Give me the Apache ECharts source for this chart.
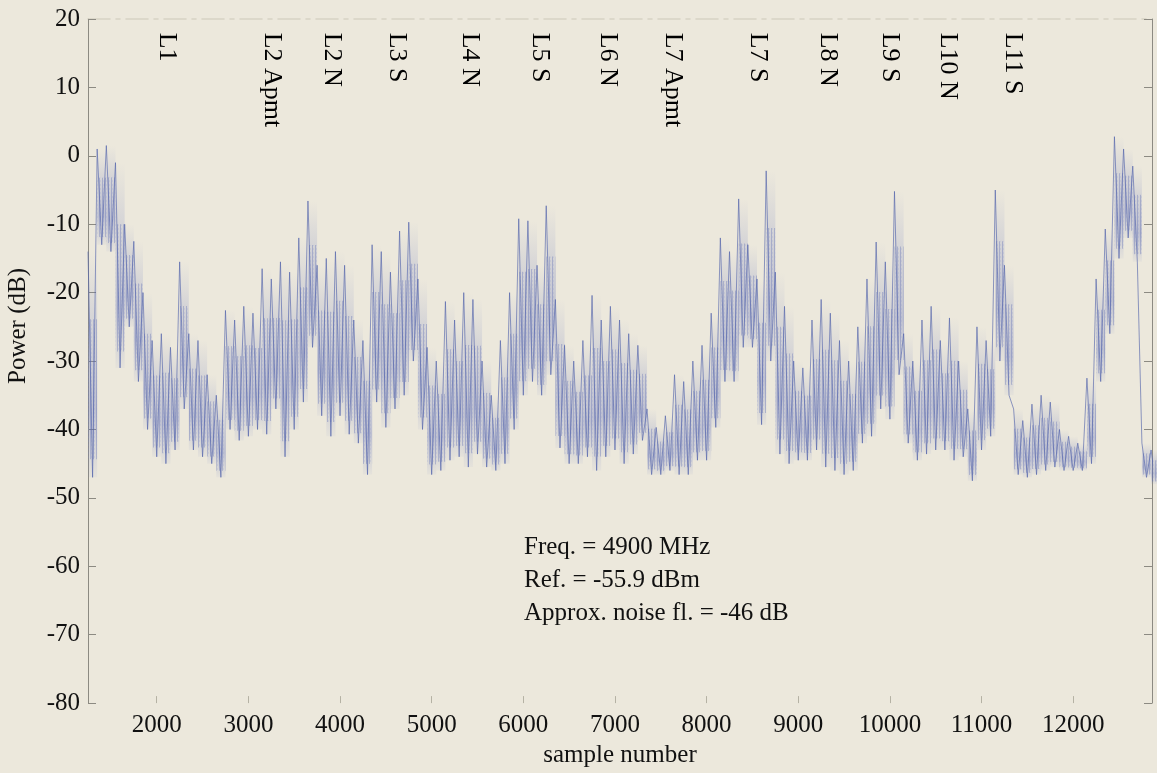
<!DOCTYPE html>
<html>
<head>
<meta charset="utf-8">
<script src="https://cdn.jsdelivr.net/npm/echarts@6/dist/echarts.min.js"></script>
<style>
html,body{margin:0;padding:0;background:#ece8dc;}
#chart{width:1157px;height:773px;}
</style>
</head>
<body>
<div id="chart"></div>
<script>
// Per 100-sample bin (first bin starts at sample 1250): upper and lower extent of the trace (dB)
const binFirstSample = 1250;
const binSamples = 100;
const powerHigh = [
 -14, 1, 1.5, -1, -10, -12.5, -20, -27, -26, -28,
 -15.5, -26, -27, -32, -35, -22.6, -24, -22, -23, -16.5,
 -18, -15.5, -17, -12, -6.6, -16, -15, -14, -16, -24,
 -27, -13, -14, -17, -11, -9.7, -18, -28, -30, -21.3,
 -24, -20, -21, -30, -35, -27, -20, -9.2, -9.5, -16,
 -7.3, -21, -27.7, -30, -27, -20.4, -24, -22, -24, -26,
 -27.7, -37, -39.7, -38, -32, -33, -30, -27.7, -23, -12,
 -14, -6.3, -13, -18, -2.2, -17, -22, -30, -31, -24,
 -21, -23, -27, -30, -25, -18, -12.6, -15.5, -5.2, -26,
 -30, -24, -22, -27, -23.7, -30, -37, -25, -27, -5,
 -16, -37, -38.7, -36.3, -35, -36, -40, -41, -42, -32.5,
 -18, -10.7, 2.8, 1, -1.5, -42, -43
];
const powerLow = [
 -47, -13, -14, -31, -25, -33, -40, -44, -45, -43,
 -37, -43, -44, -45, -47, -40, -41.6, -41, -40, -40.7,
 -37, -44, -40, -36, -28, -38, -41, -38, -40.7, -42,
 -46.6, -36, -39.7, -37, -35, -30, -40, -46.6, -46, -44.5,
 -44, -45.5, -43.6, -45.5, -46, -45, -40, -35, -33, -35,
 -32, -42.7, -45, -45, -44, -46, -44, -43, -45, -43.6,
 -41.6, -46.6, -46.6, -46, -46.6, -46.6, -44.5, -44.5, -39.7, -33,
 -33, -28, -28, -39.3, -30, -43.6, -45, -44.5, -44.5, -43,
 -45.5, -46, -46.6, -46, -42, -41, -37, -38.5, -32, -42,
 -44.5, -43.6, -43, -43, -44.5, -44, -47.5, -43, -41, -30,
 -35, -46.6, -47, -46.6, -46, -45.5, -46, -46, -46, -45,
 -33, -26, -15, -12, -15.5, -47, -48
];
const xTickValues = [2000,3000,4000,5000,6000,7000,8000,9000,10000,11000,12000];
const markerNames = ['L1','L2 Apmt','L2 N','L3 S','L4 N','L5 S','L6 N','L7 Apmt','L7 S','L8 N','L9 S','L10 N','L11 S'];
const markerSamples = [2113,3259,3914,4623,5420,6184,6926,7635,8562,9326,10003,10636,11346];
const markerLevel = 18;
const infoLines = ['Freq. = 4900 MHz','Ref. = -55.9 dBm','Approx. noise fl. = -46 dB'];

const trace = [];
const bins = [];
for (let i = 0; i < powerHigh.length; i++) {
  const s = binFirstSample + i * binSamples;
  trace.push([s, powerHigh[i]]);
  trace.push([s + binSamples / 2, powerLow[i]]);
  bins.push([s, powerHigh[i], powerLow[i]]);
}
const markers = markerNames.map((n, i) => ({ value: [markerSamples[i], markerLevel], name: n }));

// vertical hatch pattern to mimic the dense sample strokes
const hatch = document.createElement('canvas');
hatch.width = 3; hatch.height = 4;
(function () {
  const c = hatch.getContext('2d');
  c.fillStyle = 'rgba(86,102,176,0.45)';
  c.fillRect(0, 0, 1, 4);
  c.fillStyle = 'rgba(130,144,205,0.2)';
  c.fillRect(1, 0, 1, 2);
})();

const FONT = '"Liberation Serif", "Times New Roman", serif';
const chart = echarts.init(document.getElementById('chart'), null, { renderer: 'canvas' });
chart.setOption({
  backgroundColor: '#ece8dc',
  animation: false,
  grid: { left: 88, right: 5, top: 19, bottom: 67, containLabel: false },
  xAxis: [{
    type: 'value', min: 1250, max: 12860, position: 'bottom',
    name: 'sample number', nameLocation: 'middle', nameGap: 38,
    nameTextStyle: { fontFamily: FONT, fontSize: 25, color: '#111' },
    axisLine: { show: false, onZero: false },
    axisTick: { show: true, inside: true, length: 7, customValues: xTickValues, lineStyle: { color: '#b5b2a4' } },
    axisLabel: { show: true, customValues: xTickValues, formatter: v => String(v), margin: 10, fontFamily: FONT, fontSize: 25, color: '#111' },
    splitLine: { show: false }
  }, {
    type: 'value', min: 1250, max: 12860, position: 'top',
    axisLine: { show: true, onZero: false, lineStyle: { color: '#d6d2c4', type: [22, 6, 4, 6], width: 1.5 } },
    axisTick: { show: false }, axisLabel: { show: false }, splitLine: { show: false }
  }],
  yAxis: [{
    type: 'value', min: -80, max: 20, interval: 10, position: 'left',
    axisLine: { show: true, onZero: false, lineStyle: { color: '#8c8a82', width: 1 } },
    axisTick: { show: true, inside: true, length: 8, lineStyle: { color: '#8c8a82' } },
    axisLabel: { margin: 8, fontFamily: FONT, fontSize: 25, color: '#111' },
    splitLine: { show: false }
  }, {
    type: 'value', min: -80, max: 20, interval: 10, position: 'right',
    axisLine: { show: true, onZero: false, lineStyle: { color: '#8c8a82', width: 1 } },
    axisTick: { show: true, inside: true, length: 8, lineStyle: { color: '#8c8a82' } },
    axisLabel: { show: false }, splitLine: { show: false }
  }],
  series: [{
    type: 'custom', data: bins, z: 1, silent: true,
    encode: { x: 0, y: [1, 2] },
    renderItem: function (params, api) {
      const s = api.value(0), hi = api.value(1), lo = api.value(2);
      const a = api.coord([s, hi]);
      const b = api.coord([s + binSamples, lo]);
      const h = b[1] - a[1];
      const full = { x: a[0], y: a[1], width: b[0] - a[0], height: h };
      const body = { x: a[0], y: a[1] + h * 0.3, width: b[0] - a[0], height: h * 0.62 };
      return {
        type: 'group',
        children: [{
          type: 'rect', shape: full,
          style: {
            fill: new echarts.graphic.LinearGradient(0, 0, 0, 1, [
              { offset: 0, color: 'rgba(120,134,196,0.0)' },
              { offset: 0.35, color: 'rgba(112,126,192,0.22)' },
              { offset: 0.7, color: 'rgba(104,118,188,0.36)' },
              { offset: 1, color: 'rgba(120,134,196,0.06)' }
            ])
          }
        }, {
          type: 'rect', shape: body,
          style: { fill: { image: hatch, repeat: 'repeat' }, opacity: 0.75 }
        }]
      };
    }
  }, {
    type: 'line', data: trace, showSymbol: false, symbol: 'none',
    lineStyle: { color: 'rgba(84,100,172,0.72)', width: 0.9 },
    sampling: null, z: 2
  }, {
    type: 'scatter', data: markers, symbolSize: 1,
    itemStyle: { color: '#000', opacity: 0 },
    label: {
      show: true, formatter: p => p.name, position: 'inside', rotate: -90,
      align: 'left', verticalAlign: 'middle',
      fontFamily: FONT, fontSize: 26, color: '#000', opacity: 1
    }, z: 3
  }],
  graphic: [{
    type: 'text', left: 6, top: 268, rotation: Math.PI / 2,
    style: { text: 'Power (dB)', font: '25px ' + FONT, fill: '#111' }
  }, {
    type: 'text', left: 524, top: 531,
    style: { text: infoLines.join('\n'), font: '25px ' + FONT, fill: '#111', lineHeight: 33 }
  }]
});
</script>
</body>
</html>
